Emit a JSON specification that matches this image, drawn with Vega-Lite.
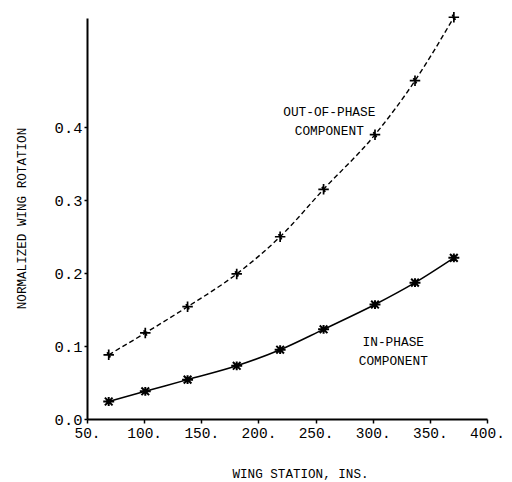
{
  "$schema": "https://vega.github.io/schema/vega-lite/v6.json",
  "autosize": {"type": "none"},
  "width": 400,
  "height": 401,
  "padding": {"left": 87, "top": 18, "right": 25, "bottom": 63},
  "background": "white",
  "config": {
    "view": {"stroke": null},
    "font": "Liberation Mono",
    "axis": {
      "grid": false,
      "domainColor": "black",
      "domainWidth": 2,
      "tickColor": "black",
      "tickWidth": 1.5,
      "tickSize": 4,
      "labelColor": "black",
      "titleColor": "black",
      "labelFont": "Liberation Mono",
      "titleFont": "Liberation Mono",
      "labelFontSize": 15,
      "labelFlush": false,
      "labelOverlap": false,
      "titleFontSize": 12.6,
      "titleFontWeight": "normal"
    }
  },
  "datasets": {
    "curves": [
      {"station": 69, "rotation": 0.088, "series": "out"},
      {"station": 101, "rotation": 0.118, "series": "out"},
      {"station": 138, "rotation": 0.154, "series": "out"},
      {"station": 181, "rotation": 0.199, "series": "out"},
      {"station": 219, "rotation": 0.250, "series": "out"},
      {"station": 257, "rotation": 0.315, "series": "out"},
      {"station": 302, "rotation": 0.390, "series": "out"},
      {"station": 337, "rotation": 0.464, "series": "out"},
      {"station": 371, "rotation": 0.551, "series": "out"},
      {"station": 69, "rotation": 0.024, "series": "in"},
      {"station": 101, "rotation": 0.038, "series": "in"},
      {"station": 138, "rotation": 0.054, "series": "in"},
      {"station": 181, "rotation": 0.073, "series": "in"},
      {"station": 219, "rotation": 0.095, "series": "in"},
      {"station": 257, "rotation": 0.123, "series": "in"},
      {"station": 302, "rotation": 0.157, "series": "in"},
      {"station": 337, "rotation": 0.187, "series": "in"},
      {"station": 371, "rotation": 0.221, "series": "in"}
    ],
    "notes": [
      {"station": 262, "rotation": 0.421, "label": "OUT-OF-PHASE|COMPONENT"},
      {"station": 318, "rotation": 0.106, "label": "IN-PHASE|COMPONENT"}
    ]
  },
  "encoding": {
    "x": {
      "field": "station",
      "type": "quantitative",
      "scale": {"domain": [50, 400], "nice": false, "zero": false},
      "axis": {
        "title": "WING STATION, INS.",
        "values": [50, 100, 150, 200, 250, 300, 350, 400],
        "labelExpr": "datum.value + '.'",
        "labelFontSize": 14.5,
        "labelPadding": 3,
        "titleX": 213,
        "titleY": 54,
        "titleBaseline": "middle",
        "titleAnchor": "middle"
      }
    },
    "y": {
      "field": "rotation",
      "type": "quantitative",
      "scale": {"domain": [0, 0.55], "nice": false},
      "axis": {
        "title": "NORMALIZED WING ROTATION",
        "values": [0, 0.1, 0.2, 0.3, 0.4],
        "format": ".1f",
        "labelFontSize": 15.5,
        "tickSize": 3,
        "labelPadding": 2,
        "titleAngle": 270,
        "titleX": -66,
        "titleY": 200,
        "titleBaseline": "middle",
        "titleAnchor": "middle"
      }
    }
  },
  "layer": [
    {
      "data": {"name": "curves"},
      "transform": [{"filter": "datum.series === 'out'"}],
      "mark": {"type": "line", "color": "black", "strokeWidth": 1.4, "strokeDash": [5, 3], "interpolate": "monotone"}
    },
    {
      "data": {"name": "curves"},
      "transform": [{"filter": "datum.series === 'in'"}],
      "mark": {"type": "line", "color": "black", "strokeWidth": 1.5, "interpolate": "monotone"}
    },
    {
      "data": {"name": "curves"},
      "transform": [{"filter": "datum.series === 'out'"}],
      "mark": {"type": "point", "shape": "M-1,0L1,0M0,-1L0,1M-0.3,-0.5L0.3,0.5", "size": 110, "filled": false, "stroke": "black", "strokeWidth": 1.7, "opacity": 1}
    },
    {
      "data": {"name": "curves"},
      "transform": [{"filter": "datum.series === 'in'"}],
      "mark": {"type": "point", "shape": "M-1,0L1,0M0,-0.8L0,0.8M-0.7,-0.7L0.7,0.7M-0.7,0.7L0.7,-0.7", "size": 120, "filled": false, "stroke": "black", "strokeWidth": 2, "opacity": 1}
    },
    {
      "data": {"name": "notes"},
      "mark": {"type": "text", "font": "Liberation Mono", "fontSize": 12.8, "lineBreak": "|", "lineHeight": 19, "align": "center", "baseline": "middle", "color": "black"},
      "encoding": {"text": {"field": "label"}}
    }
  ]
}
